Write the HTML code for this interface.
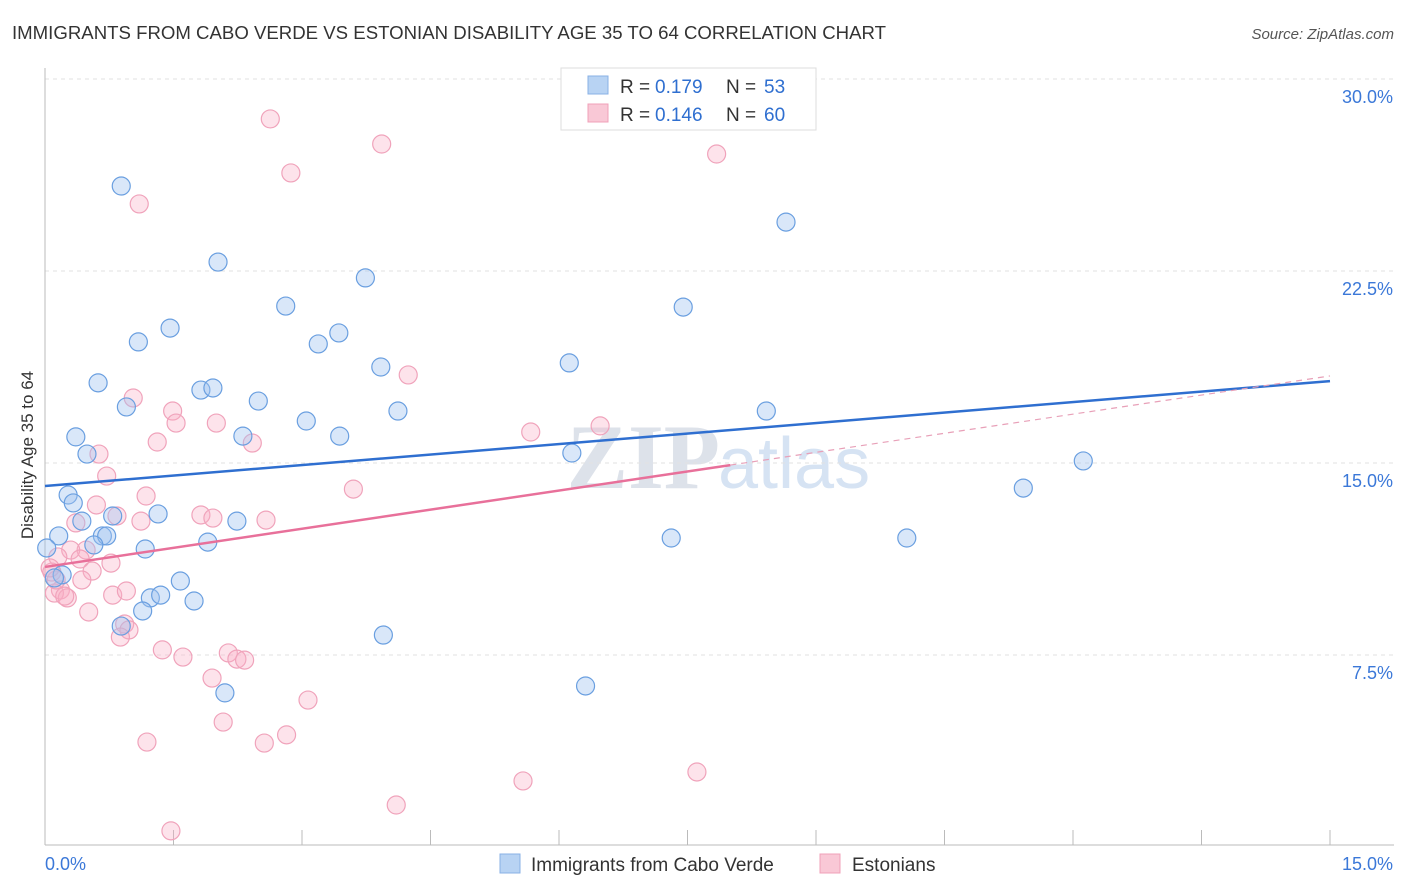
<!DOCTYPE html>
<html><head><meta charset="utf-8"><style>
body{margin:0;background:#fff;font-family:"Liberation Sans",sans-serif;}
</style></head><body>
<svg id="c" width="1406" height="892" style="display:block">
<text x="12" y="39" font-size="18" textLength="874" lengthAdjust="spacingAndGlyphs" fill="#333">IMMIGRANTS FROM CABO VERDE VS ESTONIAN DISABILITY AGE 35 TO 64 CORRELATION CHART</text>
<text x="1394" y="39" font-size="15" fill="#555" text-anchor="end" font-style="italic">Source: ZipAtlas.com</text>
<text x="720" y="488" font-size="92" fill="#dde2ea" text-anchor="end" font-family="Liberation Serif" font-weight="bold">ZIP</text>
<text x="718" y="488" font-size="72" fill="#d6e3f3">atlas</text>
<g id="grid"></g><g id="axes"></g><g id="pts"></g><g id="trend"></g>
<text transform="translate(33,455) rotate(-90)" font-size="17" fill="#333" text-anchor="middle">Disability Age 35 to 64</text>
<g>
<rect x="561" y="68" width="255" height="62" fill="#fff" stroke="#ddd"/>
<rect x="588" y="76" width="20" height="18" fill="#b8d3f3" stroke="#88b0e6"/>
<rect x="588" y="104" width="20" height="18" fill="#f9c8d6" stroke="#f0a0b8"/>
<text x="620" y="93" font-size="19" fill="#333">R =</text>
<text x="655" y="93" font-size="19" fill="#2f6fd0">0.179</text>
<text x="726" y="93" font-size="19" fill="#333">N =</text>
<text x="764" y="93" font-size="19" fill="#2f6fd0">53</text>
<text x="620" y="121" font-size="19" fill="#333">R =</text>
<text x="655" y="121" font-size="19" fill="#2f6fd0">0.146</text>
<text x="726" y="121" font-size="19" fill="#333">N =</text>
<text x="764" y="121" font-size="19" fill="#2f6fd0">60</text>
</g>
<g>
<rect x="500" y="854" width="20" height="19" fill="#b8d3f3" stroke="#88b0e6"/>
<text x="531" y="871" font-size="19" fill="#333">Immigrants from Cabo Verde</text>
<rect x="820" y="854" width="20" height="19" fill="#f9c8d6" stroke="#f0a0b8"/>
<text x="852" y="871" font-size="19" fill="#333">Estonians</text>
</g>
</svg>
<script>
const yTicks=[7.5,15,22.5,30];
const yTickLabels=["7.5%","15.0%","22.5%","30.0%"];
const xTickLabels=["0.0%","15.0%"];
const blueX=[0.89,2.02,3.74,1.46,1.09,2.81,3.19,3.43,3.92,0.62,1.82,1.96,0.95,2.49,3.05,4.12,0.36,2.31,3.44,0.49,0.27,0.33,0.43,0.79,1.32,2.24,0.16,0.67,0.72,0.57,1.17,1.90,0.02,0.20,0.11,1.58,1.23,1.35,1.74,1.14,0.89,3.95,2.10,6.31,6.12,7.45,8.65,8.42,6.15,7.31,10.06,11.42,12.12];
const blueY=[25.82,22.85,22.23,20.27,19.73,21.13,19.65,20.08,18.75,18.13,17.85,17.93,17.19,17.42,16.64,17.03,16.02,16.05,16.05,15.35,13.75,13.44,12.73,12.93,13.01,12.73,12.15,12.15,12.15,11.80,11.64,11.91,11.68,10.63,10.51,10.39,9.73,9.84,9.61,9.22,8.63,8.28,6.02,6.29,18.91,21.09,24.41,17.03,15.39,12.07,12.07,14.02,15.08];
const pinkX=[2.63,3.93,2.87,1.10,7.84,4.24,1.03,1.49,1.53,2.00,1.31,2.42,0.63,0.72,6.48,5.67,3.60,1.18,0.60,0.84,1.82,1.96,1.12,2.58,0.36,0.48,0.30,0.15,0.41,0.77,0.55,0.08,0.43,0.18,0.11,0.26,0.79,0.95,0.51,0.93,0.98,0.88,1.37,1.61,2.14,2.24,2.33,1.95,3.07,2.08,2.82,1.19,2.56,5.58,7.61,4.10,1.47,0.13,0.23,0.06];
const pinkY=[28.44,27.46,26.33,25.12,27.07,18.44,17.54,17.03,16.56,16.56,15.82,15.78,15.35,14.49,16.45,16.21,13.98,13.71,13.36,12.93,12.97,12.85,12.73,12.77,12.66,11.60,11.60,11.33,11.25,11.09,10.78,10.74,10.43,10.04,9.92,9.73,9.84,10.00,9.18,8.71,8.48,8.20,7.70,7.42,7.58,7.34,7.30,6.60,5.74,4.88,4.38,4.10,4.06,2.58,2.93,1.64,0.63,10.43,9.80,10.90];
const blueTrend=[14.1,18.2];
const pinkTrend=[10.94,18.4];
const pinkSolidEnd=8.0;
const NS="http://www.w3.org/2000/svg";
const X=v=>45+v*1285/15, Y=v=>847-v*25.6;
function mk(tag,attrs,parent){const e=document.createElementNS(NS,tag);for(const k in attrs)e.setAttribute(k,attrs[k]);document.getElementById(parent).appendChild(e);return e;}
yTicks.forEach((t,i)=>{
 const l=mk('line',{x1:45,x2:1394,y1:Y(t),y2:Y(t),stroke:'#e2e2e2','stroke-dasharray':'4,4'},'grid');
 
 
 const tx=mk('text',{x:1393,y:Y(t)+24,'font-size':18,fill:'#3b78d8','text-anchor':'end'},'grid');
 tx.textContent=yTickLabels[i];
 
 
});
let a=mk('line',{x1:45,x2:45,y1:68,y2:845,stroke:'#bbb'},'axes');


a=mk('line',{x1:45,x2:1394,y1:845,y2:845,stroke:'#bbb'},'axes');


for(let i=0;i<=10;i++){const t=mk('line',{x1:X(i*1.5),x2:X(i*1.5),y1:830,y2:845,stroke:'#bbb'},'axes');
 
 }
let xl=mk('text',{x:45,y:870,'font-size':18,fill:'#3b78d8'},'axes');xl.textContent=xTickLabels[0];


xl=mk('text',{x:1393,y:870,'font-size':18,fill:'#3b78d8','text-anchor':'end'},'axes');xl.textContent=xTickLabels[1];


pinkX.forEach((v,i)=>{const c=mk('circle',{cx:X(v),cy:Y(pinkY[i]),r:9,fill:'rgba(248,175,198,0.35)',stroke:'#f0a3bb','stroke-width':1.2},'pts');
 
 });
blueX.forEach((v,i)=>{const c=mk('circle',{cx:X(v),cy:Y(blueY[i]),r:9,fill:'rgba(160,196,240,0.4)',stroke:'#6a9fe0','stroke-width':1.2},'pts');
 
 });
const pAt=v=>pinkTrend[0]+(pinkTrend[1]-pinkTrend[0])*v/15;
let t=mk('line',{x1:X(0),y1:Y(blueTrend[0]),x2:X(15),y2:Y(blueTrend[1]),stroke:'#2f6fd0','stroke-width':2.5},'trend');


t=mk('line',{x1:X(0),y1:Y(pinkTrend[0]),x2:X(pinkSolidEnd),y2:Y(pAt(pinkSolidEnd)),stroke:'#e8709a','stroke-width':2.5},'trend');


t=mk('line',{x1:X(pinkSolidEnd),y1:Y(pAt(pinkSolidEnd)),x2:X(15),y2:Y(pinkTrend[1]),stroke:'#e8a0b8','stroke-width':1.2,'stroke-dasharray':'6,5'},'trend');


</script>
</body></html>
